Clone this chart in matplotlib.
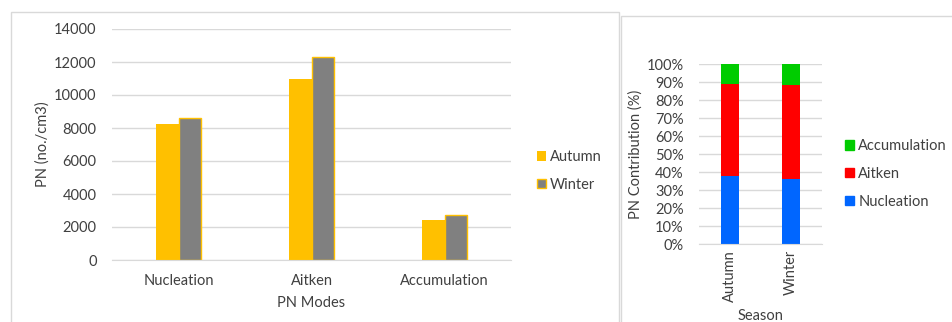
import matplotlib
matplotlib.use("Agg")
import matplotlib.pyplot as plt
import numpy as np
from matplotlib.patches import Rectangle, Patch

# left chart: particle number by mode
modes = ["Nucleation", "Aitken", "Accumulation"]
autumn_pn = [8250, 11000, 2400]
winter_pn = [8600, 12300, 2750]

# right chart: percent contribution by season
seasons = ["Autumn", "Winter"]
nucleation_pct = [38.0, 36.0]
aitken_pct = [50.7, 52.2]
accumulation_pct = [11.3, 11.8]

YELLOW = "#FFC000"
GREY = "#808080"
GRID = "#D9D9D9"
TEXT = "#404040"

plt.rcParams["font.family"] = ["Lato", "DejaVu Sans"]
plt.rcParams["font.size"] = 10.5

W, H = 952, 322
fig = plt.figure(figsize=(W / 100, H / 100), dpi=100)


def px_axes(x0, y0, x1, y1):
    return fig.add_axes([x0 / W, (H - y1) / H, (x1 - x0) / W, (y1 - y0) / H])


# outer boxes
fig.patches.append(Rectangle((11 / W, -0.05), (619 - 11) / W, (H - 12) / H + 0.05,
                             transform=fig.transFigure, fill=False, edgecolor=GRID, lw=1))
fig.patches.append(Rectangle((621 / W, -0.05), 0.5, (H - 16) / H + 0.05,
                             transform=fig.transFigure, fill=False, edgecolor=GRID, lw=1))


def style(ax):
    for s in ["top", "right", "left"]:
        ax.spines[s].set_visible(False)
    ax.spines["bottom"].set_color(GRID)
    ax.yaxis.grid(True, color=GRID, lw=1)
    ax.set_axisbelow(True)
    ax.tick_params(length=0, colors=TEXT)


def legend_at(ax, x0, yc, **kw):
    ax.legend(loc="center left", bbox_to_anchor=(x0 / W, (H - yc) / H),
              bbox_transform=fig.transFigure, frameon=False, borderpad=0,
              borderaxespad=0, handlelength=0.6, handleheight=0.6,
              handletextpad=0.3, labelspacing=0.95, labelcolor=TEXT, **kw)


# left grouped bars
ax1 = px_axes(112, 29, 511, 260)
x = np.arange(len(modes))
w = 0.17
ax1.bar(x - w / 2, autumn_pn, w, color=YELLOW, label="Autumn")
ax1.bar(x + w / 2, winter_pn, w, color=GREY, edgecolor=YELLOW, lw=1, label="Winter")
ax1.set_xlim(-0.5, 2.5)
ax1.set_ylim(0, 14000)
ax1.set_yticks(range(0, 14001, 2000))
ax1.set_xticks(x, modes)
style(ax1)
ax1.tick_params(axis="x", pad=10)
ax1.tick_params(axis="y", pad=11)
ax1.set_ylabel("PN (no./cm3)", color=TEXT)
ax1.yaxis.set_label_coords(-0.155, 0.5)
ax1.set_xlabel("PN Modes", color=TEXT)
ax1.xaxis.set_label_coords(0.5, -0.158)
legend_at(ax1, 537, 171)

# right stacked percent bars
ax2 = px_axes(699, 64, 822, 244.3)
xs = np.arange(len(seasons))
bw = 0.29
ax2.bar(xs, nucleation_pct, bw, color="#0066FF")
ax2.bar(xs, aitken_pct, bw, bottom=nucleation_pct, color="#FF0000")
ax2.bar(xs, accumulation_pct, bw,
        bottom=np.add(nucleation_pct, aitken_pct), color="#00CC00")
ax2.set_xlim(-0.5, 1.5)
ax2.set_ylim(0, 100)
ax2.set_yticks(range(0, 101, 10), [f"{v}%" for v in range(0, 101, 10)])
ax2.set_xticks(xs, seasons, rotation=90)
style(ax2)
ax2.tick_params(axis="x", pad=4)
ax2.tick_params(axis="y", pad=11)
ax2.set_ylabel("PN Contribution (%)", color=TEXT)
ax2.yaxis.set_label_coords(-0.455, 0.5)
ax2.set_xlabel("Season", color=TEXT)
ax2.xaxis.set_label_coords(0.496, -0.36)
handles = [Patch(color="#00CC00", label="Accumulation"),
           Patch(color="#FF0000", label="Aitken"),
           Patch(color="#0066FF", label="Nucleation")]
legend_at(ax2, 845, 174, handles=handles)

fig.savefig("out.png", dpi=100, facecolor="white")
